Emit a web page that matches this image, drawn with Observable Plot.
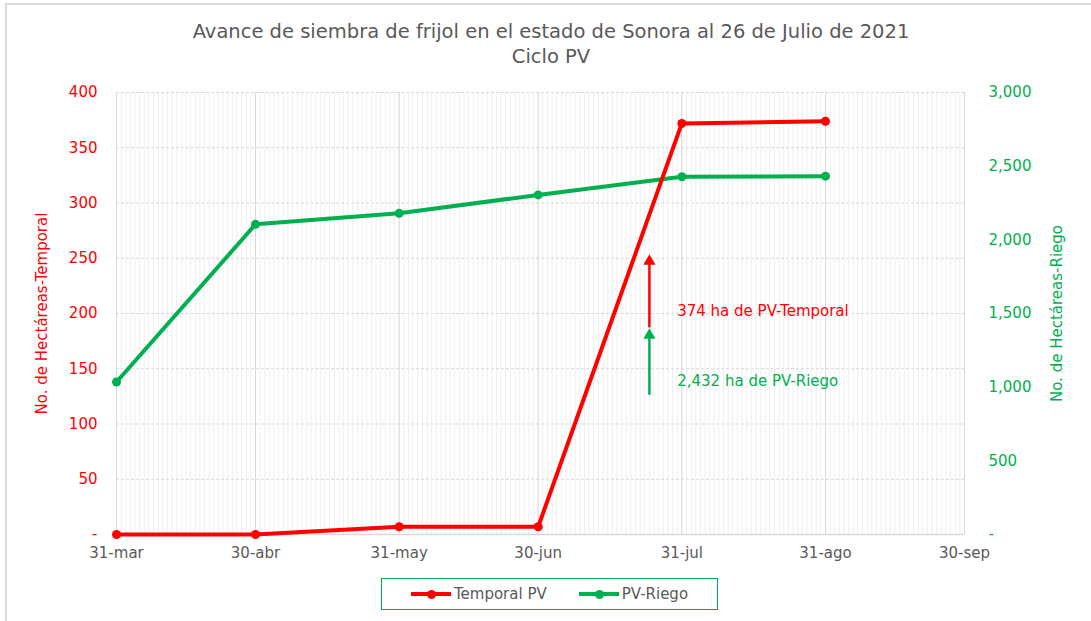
<!DOCTYPE html>
<html><head><meta charset="utf-8">
<script src="https://cdn.jsdelivr.net/npm/d3@7"></script>
<script src="https://cdn.jsdelivr.net/npm/@observablehq/plot@0.6"></script>
<style>
body{margin:0;background:#fff;font-family:"DejaVu Sans",sans-serif;width:1091px;height:621px;overflow:hidden;position:relative;}
#frame{position:absolute;left:5px;top:3px;width:1200px;height:700px;border-left:2px solid #d9d9d9;border-top:2px solid #d9d9d9;pointer-events:none;}
#title{height:80px;box-sizing:border-box;padding-top:19px;padding-left:11px;text-align:center;color:#595959;font-size:19.5px;line-height:25px;}
#chart svg{display:block;}
#legend{position:absolute;left:381px;top:578px;width:337px;height:32px;box-sizing:border-box;border:1.5px solid #00b050;display:flex;align-items:center;justify-content:center;gap:10px;color:#595959;font-size:15px;padding-left:0px;}
.item{display:flex;align-items:center;}
.sw{position:relative;display:inline-block;width:40px;height:4px;margin-right:3px;}
.sw::after{content:"";position:absolute;left:16px;top:-2.5px;width:9px;height:9px;border-radius:50%;background:inherit;}
</style></head>
<body>
<div id="frame"></div>
<div id="title">Avance de siembra de frijol en el estado de Sonora al 26 de Julio de 2021<br>Ciclo PV</div>
<div id="chart"></div>
<div id="legend"></div>
<script>
// Data
const fechas = ["2021-03-31","2021-04-30","2021-05-31","2021-06-30","2021-07-31","2021-08-31"];
const temporal = [0, 0, 7, 7, 372, 374];
const riego = [1035, 2105, 2180, 2305, 2428, 2432];
const xTickFechas = ["2021-03-31","2021-04-30","2021-05-31","2021-06-30","2021-07-31","2021-08-31","2021-09-30"];
const xTickLabels = ["31-mar","30-abr","31-may","30-jun","31-jul","31-ago","30-sep"];
const leftTicks = [0, 50, 100, 150, 200, 250, 300, 350, 400];
const rightTicks = [0, 500, 1000, 1500, 2000, 2500, 3000];
const seriesNames = ["Temporal PV", "PV-Riego"];
const seriesColors = ["#ff0000", "#00b050"];
const annotTexts = ["374 ha de PV-Temporal", "2,432 ha de PV-Riego"];
const annotFecha = "2021-07-24";
const annotTextFecha = "2021-07-30";
const annotArrowFrom = [187, 126];
const annotArrowTo = [250, 183];
const annotTextY = [202, 139];

const parse = d3.utcParse("%Y-%m-%d");
const k = 400 / 3000;
const data = fechas.map((f, i) => ({fecha: parse(f), temporal: temporal[i], riego: riego[i] * k}));
const xTicks = xTickFechas.map(parse);
const labelMap = new Map(xTicks.map((d, i) => [+d, xTickLabels[i]]));
const fmt = v => v === 0 ? "-" : d3.format(",")(v);
const red = seriesColors[0], green = seriesColors[1];
const annot = annotTexts.map((t, i) => ({
  text: t, color: seriesColors[i],
  x: parse(annotFecha), tx: parse(annotTextFecha),
  y1: annotArrowFrom[i], y2: annotArrowTo[i], ty: annotTextY[i]
}));

const chart = Plot.plot({
  width: 1091, height: 495,
  marginLeft: 116, marginRight: 127, marginTop: 12, marginBottom: 41,
  style: {fontFamily: "DejaVu Sans, sans-serif", background: "transparent"},
  x: {type: "utc", domain: [xTicks[0], xTicks[xTicks.length - 1]]},
  y: {domain: [0, 400]},
  marks: [
    Plot.gridX(d3.utcDay.range(xTicks[0], xTicks[xTicks.length - 1]), {stroke: "#efefef", strokeOpacity: 1}),
    Plot.gridY(leftTicks, {stroke: "#d9d9d9", strokeOpacity: 1, strokeDasharray: "3,2"}),
    Plot.gridX(xTicks, {stroke: "#d9d9d9", strokeOpacity: 1}),
    Plot.ruleY([0], {stroke: "#d9d9d9", strokeWidth: 1.5}),
    Plot.axisX(xTicks, {tickSize: 0, tickPadding: 13, tickFormat: d => labelMap.get(+d), color: "#595959", fontSize: 15, label: null}),
    Plot.axisY(leftTicks, {anchor: "left", tickSize: 0, tickPadding: 19, tickFormat: fmt, color: red, fontSize: 15, label: null}),
    Plot.axisY(rightTicks.map(v => v * k), {anchor: "right", tickSize: 0, tickPadding: 24, tickFormat: d => fmt(Math.round(d / k)), color: green, fontSize: 15, label: null}),
    Plot.text(["No. de Hectáreas-Temporal"], {frameAnchor: "left", textAnchor: "middle", dx: -74, rotate: -90, fill: red, fontSize: 15}),
    Plot.text(["No. de Hectáreas-Riego"], {frameAnchor: "right", textAnchor: "middle", dx: 93, rotate: -90, fill: green, fontSize: 15}),
    Plot.line(data, {x: "fecha", y: "riego", stroke: green, strokeWidth: 4}),
    Plot.dot(data, {x: "fecha", y: "riego", fill: green, r: 4.5}),
    Plot.line(data, {x: "fecha", y: "temporal", stroke: red, strokeWidth: 4}),
    Plot.dot(data, {x: "fecha", y: "temporal", fill: red, r: 4.5}),
    Plot.ruleX(annot, {x: "x", y1: "y1", y2: d => d.y2 - 5, stroke: "color", strokeWidth: 2.5}),
    Plot.dot(annot, {x: "x", y: "y2", symbol: "triangle", r: 4.5, fill: "color", dy: 3}),
    Plot.text(annot, {x: "tx", y: "ty", text: "text", fill: "color", textAnchor: "start", fontSize: 15})
  ]
});
document.getElementById("chart").append(chart);

const legend = document.getElementById("legend");
seriesNames.forEach((n, i) => {
  const it = document.createElement("span");
  it.className = "item";
  it.innerHTML = `<span class="sw" style="background:${seriesColors[i]}"></span>${n}`;
  if (i === 1) it.style.marginLeft = "22px";
  legend.append(it);
});
</script>
</body></html>
